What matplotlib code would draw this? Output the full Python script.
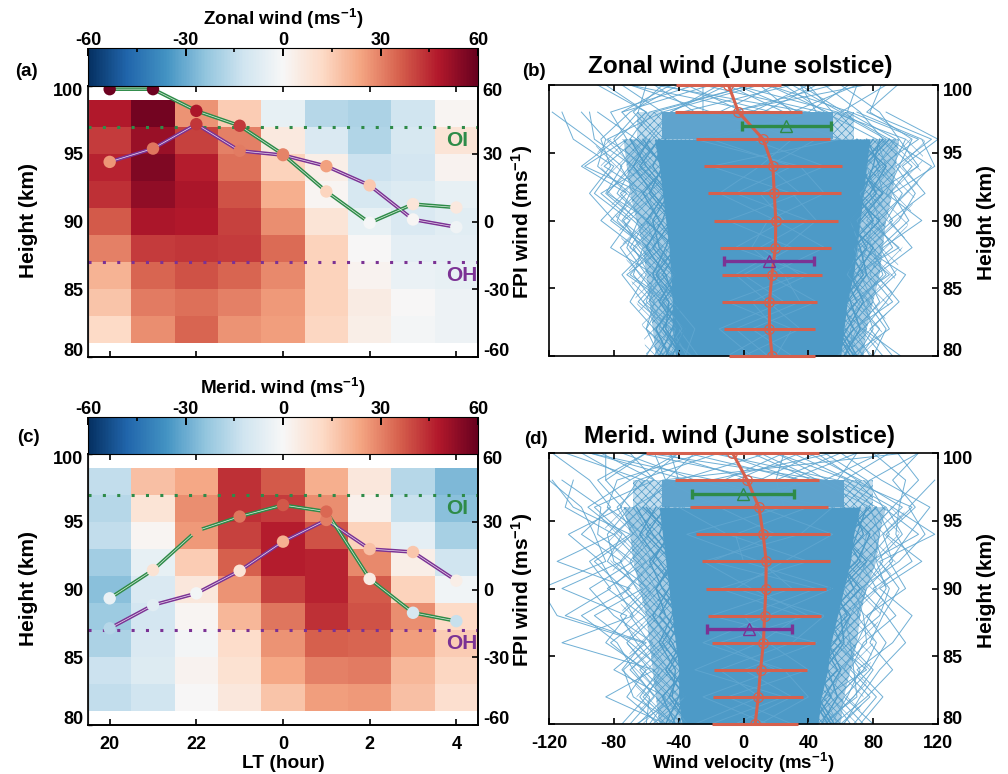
import numpy as np
import matplotlib
matplotlib.use("Agg")
import matplotlib.pyplot as plt
from matplotlib.cm import ScalarMappable
from matplotlib.colors import Normalize
from matplotlib.transforms import ScaledTranslation

plt.rcParams.update({
    "font.family": ["Liberation Sans", "DejaVu Sans"], "font.weight": "bold",
    "mathtext.fontset": "custom", "mathtext.rm": "Liberation Sans:bold",
    "mathtext.default": "rm", "axes.linewidth": 1.2, "axes.unicode_minus": False,
    "hatch.linewidth": 0.5,
})

# ---- data ----
lt_labels = ["20", "22", "0", "2", "4"]
lt_index = [0, 2, 4, 6, 8]
cell_heights = [98, 96, 94, 92, 90, 88, 86, 84, 82]
zonal_grid = [
    [48, 58, 27, 15, -5, -17, -19, -12, 1],
    [42, 52, 41, 30, 6, -9, -18, -10, 8],
    [46, 56, 47, 33, 14, 4, -13, -11, 2],
    [44, 53, 49, 38, 22, 1, -10, -8, -5],
    [37, 49, 48, 41, 28, 8, -5, -9, -7],
    [30, 42, 43, 42, 34, 14, 0, -6, -6],
    [21, 35, 38, 35, 29, 14, 2, -4, -5],
    [17, 31, 33, 30, 26, 14, 5, 0, -3],
    [12, 28, 35, 27, 25, 13, 4, -1, -3],
]
merid_grid = [
    [-15, 18, 23, 44, 37, 22, 7, -17, -27],
    [-17, 8, 28, 44, 42, 28, 3, -14, -25],
    [-15, 1, 26, 41, 47, 38, 14, -6, -20],
    [-21, -5, 15, 36, 47, 46, 29, 4, -12],
    [-25, -9, 7, 27, 41, 46, 37, 14, -2],
    [-22, -11, 1, 20, 32, 44, 38, 28, 12],
    [-19, -9, -1, 11, 27, 36, 35, 25, 15],
    [-13, -8, 2, 9, 23, 30, 31, 20, 13],
    [-15, -12, 0, 7, 17, 25, 26, 18, 10],
]
zonal_oi = [58.6, 58.6, 49, 42.4, 29.7, 13.3, -0.6, 7.7, 6.2]
zonal_oh = [26.4, 32.3, 43.1, 31.3, 29.4, 24.5, 16, 0.9, -2.5]
merid_oi = [-3.9, 8.6, 25.9, 32.3, 37.4, 34.5, 4.7, -10.3, -14]
merid_oh = [-17.2, -6.9, -1.7, 8.3, 21.2, 30.8, 17.9, 16.6, 3.9]

prof_heights = [80, 82, 84, 86, 88, 90, 92, 94, 96, 98, 100]
band_heights = [80, 82, 84, 86, 88, 90, 92, 94, 96]
zonal_mean = [17.6, 16.0, 16.0, 17.5, 19.7, 19.9, 19.0, 18.1, 12.1, -3.1, -9.3]
zonal_half = [26.4, 28, 29.2, 30.9, 34.2, 38.1, 41.2, 42.4, 41.4, 39.1, 32.3]
merid_mean = [7.2, 9.1, 10.5, 12.3, 13, 13.8, 14, 12.1, 9.5, 2.3, -6.8]
merid_half = [26.4, 27.7, 28.6, 31.7, 34.9, 36.9, 39.5, 41.4, 42.4, 44.4, 53.4]
zonal_fpi = {"oi": (26.4, 27.5), "oh": (15.8, 27.8)}
merid_fpi = {"oi": (-0.3, 31.6), "oh": (3.5, 26.3)}

zonal_core_lo = [-42, -44, -44, -45, -46, -48, -50, -52, -55]
zonal_core_hi = [60, 62, 64, 68, 70, 72, 74, 76, 78]
zonal_mid_lo = [-54, -56, -58, -60, -62, -66, -70, -72, -74]
zonal_mid_hi = [74, 76, 80, 84, 86, 88, 92, 94, 96]
zonal_out_lo = [-60, -62, -66, -70, -74, -78, -84, -88, -92]
zonal_out_hi = [82, 86, 90, 94, 98, 102, 106, 110, 112]
merid_core_lo = [-38, -40, -40, -42, -44, -46, -48, -50, -52]
merid_core_hi = [46, 48, 52, 54, 58, 62, 66, 68, 72]
merid_mid_lo = [-52, -54, -56, -58, -60, -64, -68, -70, -74]
merid_mid_hi = [60, 62, 66, 70, 72, 76, 82, 84, 88]
merid_out_lo = [-62, -66, -68, -72, -74, -78, -82, -84, -90]
merid_out_hi = [70, 74, 78, 80, 84, 88, 94, 96, 100]
zonal_top_core = (-50, 55)
zonal_top_mid = (-66, 68)
merid_top_core = (-50, 62)
merid_top_mid = (-68, 80)

n = np.nan
zonal_profiles = [
    [-52, -60, -55, -68, -62, -78, -70, -90, -85, -100, n],
    [-45, -55, -70, -60, -72, -65, -85, -75, -95, -118, n],
    [-60, -50, -62, -75, -58, -80, -95, -82, -88, -70, -40],
    [-40, -48, -58, -52, -66, -88, -72, -100, -78, -60, -90],
    [-48, -42, -60, -55, -82, -70, -92, -80, -105, -112, n],
    [-38, -52, -46, -70, -55, -75, -62, -98, -72, -82, -30],
    [-55, -46, -65, -50, -70, -60, -78, -68, -92, -95, n],
    [-42, -60, -50, -64, -76, -58, -84, -70, -80, -65, -60],
    [-35, -44, -62, -48, -60, -82, -66, -76, -60, -75, -20],
    [-50, -38, -48, -72, -50, -68, -88, -60, -84, -50, -75],
    [-32, -50, -40, -58, -68, -52, -60, -86, -66, -90, n],
    [-46, -36, -52, -44, -64, -74, -54, -70, -58, -45, -10],
    [-28, -40, -56, -42, -54, -60, -76, -56, -70, -58, 5],
    [-36, -30, -44, -54, -46, -58, -50, -66, -52, -68, -50],
    [80, 88, 76, 94, 84, 102, 92, 118, 110, 70, n],
    [92, 78, 96, 82, 104, 90, 112, 98, 120, 88, n],
    [72, 84, 70, 88, 78, 96, 106, 94, 116, 76, 95],
    [97, 74, 88, 100, 74, 92, 80, 108, 96, 84, 60],
    [66, 90, 80, 72, 92, 82, 100, 116, 90, 60, 30],
    [78, 68, 92, 78, 86, 110, 88, 96, 104, 78, 85],
    [86, 72, 66, 90, 70, 88, 98, 84, 108, 66, 15],
    [70, 80, 74, 68, 96, 76, 90, 104, 86, 72, 50],
    [62, 70, 84, 76, 68, 84, 78, 92, 100, 55, 40],
    [74, 62, 72, 86, 80, 70, 86, 82, 94, 64, 70],
    [58, 76, 64, 70, 76, 80, 72, 88, 82, 50, 25],
    [68, 66, 78, 64, 72, 66, 82, 76, 88, 58, -5],
    [20, 30, -10, 35, 10, 40, -5, 30, -20, 40, -55],
    [5, -15, 25, 0, 30, -10, 35, 15, 45, -25, -25],
    [-10, 20, 5, 40, -5, 25, 10, 50, 5, 30, 10],
    [30, 5, 45, 15, 50, 20, -15, 10, 30, -10, 75],
    [0, 35, 15, -5, 25, 45, 30, -20, 60, 10, -70],
    [15, -5, 35, 25, 5, 15, 50, 35, -30, 45, 35],
]
merid_profiles = [
    [-60, -58, -75, -62, -115, -125, -85, -92, -100, -120, n],
    [-70, -55, -68, -78, -100, -70, -115, -80, -110, -105, n],
    [-52, -72, -60, -85, -72, -112, -75, -100, -82, -95, -118],
    [-65, -48, -80, -60, -110, -82, -95, -70, -105, -118, n],
    [-48, -85, -55, -112, -68, -78, -88, -108, -75, -90, -60],
    [-75, -60, -50, -70, -92, -62, -84, -75, -96, -70, -100],
    [-42, -68, -74, -56, -80, -95, -68, -90, -88, -112, n],
    [-58, -46, -62, -82, -60, -74, -92, -68, -78, -60, -40],
    [-50, -64, -52, -66, -76, -58, -80, -84, -70, -85, -85],
    [-38, -54, -70, -50, -62, -84, -60, -74, -92, -55, -70],
    [-66, -40, -58, -72, -54, -66, -76, -62, -84, -78, -25],
    [-44, -62, -46, -58, -70, -54, -64, -80, -62, -48, -55],
    [-34, -50, -64, -46, -56, -72, -56, -66, -76, -65, -15],
    [-56, -36, -48, -62, -48, -60, -70, -58, -68, -40, -45],
    [62, 72, 84, 100, 88, 72, 96, 112, 102, 118, n],
    [72, 86, 70, 92, 104, 84, 110, 88, 106, 92, 108],
    [56, 76, 92, 78, 86, 96, 84, 118, 92, 108, 95],
    [80, 62, 78, 88, 76, 100, 90, 102, 115, 85, 60],
    [68, 82, 66, 74, 94, 80, 104, 94, 96, 100, 80],
    [50, 68, 80, 64, 84, 90, 78, 108, 86, 76, 50],
    [74, 58, 74, 82, 70, 76, 92, 86, 104, 66, 30],
    [60, 78, 62, 70, 78, 88, 82, 98, 88, 58, 70],
    [54, 64, 72, 60, 66, 74, 86, 80, 98, 70, 45],
    [66, 54, 60, 76, 74, 68, 76, 90, 82, 52, 20],
    [48, 70, 68, 66, 62, 82, 72, 76, 92, 62, 90],
    [58, 50, 76, 56, 72, 62, 80, 84, 78, 46, 10],
    [-20, 25, -30, 10, 35, -15, 40, -10, -40, 50, -60],
    [15, -25, 20, -15, 40, 5, -25, 35, 55, -35, -95],
    [-5, 30, 0, 45, -20, 30, 10, -35, 25, 20, 25],
    [30, -10, 40, 15, 0, 45, -20, 20, -15, -50, 100],
    [-30, 10, -15, 30, 50, -5, 25, 55, 10, 35, -35],
    [10, 40, 25, -25, 15, 55, 0, -5, 40, -20, 55],
]
# profiles running along the edge of the solid core, 80-96 km
zonal_edge_lines = [
    [-48, -40, -52, -42, -56, -44, -58, -50, -62],
    [-38, -50, -40, -54, -42, -60, -48, -64, -52],
    [-52, -44, -38, -50, -40, -52, -62, -48, -66],
    [-44, -36, -50, -38, -52, -56, -46, -60, -70],
    [-36, -48, -46, -56, -48, -42, -56, -68, -58],
    [-46, -54, -42, -48, -60, -50, -44, -56, -48],
    [66, 56, 70, 62, 76, 66, 82, 72, 86],
    [56, 68, 60, 74, 64, 80, 70, 84, 76],
    [70, 60, 56, 70, 80, 62, 78, 88, 70],
    [62, 72, 66, 58, 68, 84, 66, 74, 90],
    [54, 64, 74, 66, 60, 72, 86, 68, 80],
    [68, 58, 64, 76, 72, 64, 74, 80, 84],
]
merid_edge_lines = [
    [-44, -36, -48, -38, -52, -42, -56, -46, -60],
    [-34, -46, -38, -50, -40, -54, -44, -60, -48],
    [-48, -40, -34, -46, -38, -50, -58, -44, -62],
    [-40, -32, -46, -36, -48, -54, -42, -56, -66],
    [-32, -44, -42, -52, -44, -40, -52, -64, -54],
    [-42, -50, -36, -44, -56, -46, -40, -52, -46],
    [52, 42, 58, 48, 64, 56, 72, 62, 78],
    [42, 54, 46, 60, 52, 68, 60, 74, 68],
    [56, 46, 42, 56, 66, 52, 70, 78, 62],
    [48, 58, 52, 44, 56, 72, 58, 64, 82],
    [40, 50, 60, 52, 50, 60, 76, 60, 72],
    [54, 44, 50, 62, 60, 54, 64, 70, 76],
]
# wind at 98 km and at 100 km for the sparse profiles that reach the top
zonal_top_98 = [-60, -45, -30, -15, 0, 12, 25, 40, 52, 60, -75, -50, -20, 5, 30, 48, -38, 18, 62, -8, 35, -55]
zonal_top_100 = [-85, -15, -55, 20, -35, 45, -10, 65, 15, 88, -45, 10, -70, 40, 70, -25, 30, -50, 35, 55, -5, 5]
merid_top_98 = [-62, -48, -30, -12, 5, 20, 35, 50, 65, 78, -85, -40, -18, 10, 28, 58, -70, 42, 72, -55, -5, 15]
merid_top_100 = [-110, -30, -75, 25, -50, 60, -15, 85, 20, 108, -60, 15, -95, 45, 70, -20, -40, 5, 40, -88, 35, -65]

# ---- styling ----
W, H = 1008, 774
GREEN, PURPLE, RED = "#2e8b48", "#7b3294", "#d6604d"
BLUE = "#4d9ac7"
cmap = plt.get_cmap("RdBu_r")
norm = Normalize(-60, 60)
FS = 13


def px_axes(l, r, t, b, **kw):
    return fig.add_axes([l / W, 1 - b / H, (r - l) / W, (b - t) / H], **kw)


def ftext(x, y, s, **kw):
    kw.setdefault("ha", "center")
    kw.setdefault("va", "center")
    kw.setdefault("fontsize", FS)
    fig.text(x / W, 1 - y / H, s, **kw)


def nudge_ends(ax_axis):
    labs = ax_axis.get_ticklabels()
    labs[0].set_transform(labs[0].get_transform() + ScaledTranslation(0, 7 / 100, fig.dpi_scale_trans))
    labs[-1].set_transform(labs[-1].get_transform() + ScaledTranslation(0, -4 / 100, fig.dpi_scale_trans))


def double_line(ax, xs, ys, color):
    ax.plot(xs, ys, color=color, lw=2.6, zorder=4, solid_capstyle="round")
    ax.plot(xs, ys, color="white", lw=0.5, alpha=0.85, zorder=4.1)
    ax.scatter(xs, ys, c=ys, cmap=cmap, norm=norm, s=80, lw=0, zorder=5, clip_on=False)


def heat_panel(l, r, t, b, cb_top, grid, oi, oh, title, title_y, xlabels):
    ax = px_axes(l, r, t, b)
    xe = np.arange(10) - 0.5
    ye = [99 - 2 * i for i in range(len(cell_heights) + 1)]
    ax.pcolormesh(xe, ye, np.array(grid, float), cmap=cmap, norm=norm, zorder=2.2)
    ax.set_xlim(-0.5, 8.5)
    ax.set_ylim(80, 100)
    ax.set_yticks([80, 85, 90, 95, 100])
    ax.set_xticks(lt_index)
    ax.tick_params(axis="x", direction="in", top=True, length=4.5, width=1.2, labelsize=FS,
                   labelbottom=xlabels, pad=8)
    ax.set_xticklabels(lt_labels)
    ax.tick_params(axis="y", direction="in", left=True, length=3, width=1, labelsize=FS, pad=3.5)
    nudge_ends(ax.yaxis)
    ax.spines["left"].set_color("#888888")
    ax.spines["left"].set_linewidth(0.9)
    ax.axhline(97, color=GREEN, lw=2.2, dashes=(1.0, 3.7), zorder=3.5)
    ax.axhline(87, color=PURPLE, lw=2.2, dashes=(1.0, 3.7), zorder=3.5)
    ax.text(8.02, 96.0, "OI", color=GREEN, fontsize=15, ha="center", va="center", zorder=6)
    ax.text(8.13, 86.05, "OH", color=PURPLE, fontsize=15, ha="center", va="center", zorder=6)
    tw = ax.twinx()
    tw.set_ylim(-60, 60)
    tw.set_yticks([-60, -30, 0, 30, 60])
    tw.tick_params(axis="y", direction="in", length=4.5, width=1.2, labelsize=FS, pad=3.5)
    nudge_ends(tw.yaxis)
    xs = np.arange(9)
    double_line(tw, xs, oh, PURPLE)
    double_line(tw, xs, oi, GREEN)
    cax = px_axes(l, r, cb_top, t)
    cb = fig.colorbar(ScalarMappable(norm=norm, cmap=cmap), cax=cax, orientation="horizontal")
    cax.xaxis.set_ticks_position("top")
    cb.set_ticks([-60, -30, 0, 30, 60])
    cax.set_xticks([-45, -15, 15, 45], minor=True)
    cax.tick_params(axis="x", which="major", direction="in", length=6, width=1.4, labelsize=FS, pad=-1,
                    color="black")
    cax.tick_params(axis="x", which="minor", direction="in", length=3, width=1.2, top=True, bottom=False)
    cb.outline.set_linewidth(0.8)
    ftext((l + r) / 2, title_y, title, fontsize=13.6)
    return ax


def wind_panel(l, r, t, b, mean, half, fpi, core_lo, core_hi, mid_lo, mid_hi, out_lo, out_hi,
               top_core, top_mid, top98, top100, profiles, edge_lines, title, title_y, xlabels):
    ax = px_axes(l, r, t, b)
    line = "#7ab2d6"
    ax.fill_betweenx(band_heights, out_lo, out_hi, facecolor="none", edgecolor=line, hatch="xx",
                     lw=0, zorder=1)
    ax.fill_betweenx(band_heights, mid_lo, mid_hi, facecolor="#a9cde4", edgecolor=BLUE, hatch="xxxx",
                     lw=0, zorder=1.1)
    ax.fill_betweenx(band_heights, core_lo, core_hi, color=BLUE, lw=0, zorder=1.2)
    ax.fill_betweenx([96, 98], top_mid[0], top_mid[1], facecolor="#c5deee", edgecolor=BLUE, hatch="xxxx",
                     lw=0, zorder=1)
    ax.fill_betweenx([96, 98], top_core[0], top_core[1], color="#5fa3cd", lw=0, zorder=1.2)
    for p in profiles:
        ax.plot(p, prof_heights, color="#5fa6d0", lw=0.7, alpha=0.9, zorder=1.5)
    for p in edge_lines:
        ax.plot(p, band_heights, color=BLUE, lw=1.0, zorder=1.6)
    for a, c in zip(top98, top100):
        ax.plot([a, c], [98, 100], color="#5fa6d0", lw=0.7, alpha=0.9, zorder=1.5)
    ax.plot(mean, prof_heights, color=RED, lw=2.2, marker="o", ms=7, mfc="none", mec=RED, mew=0.9,
            zorder=3, clip_on=True)
    ax.hlines(prof_heights, np.array(mean) - np.array(half), np.array(mean) + np.array(half),
              color=RED, lw=2.2, zorder=3, clip_on=False)
    for key, col, h in (("oi", GREEN, 97), ("oh", PURPLE, 87)):
        c, e = fpi[key]
        ax.errorbar([c], [h], xerr=[e], color=col, lw=2.4, capsize=3.5, capthick=2.4, zorder=4)
        ax.plot([c], [h], marker="^", ms=9, mfc="none", mec=col, mew=1, zorder=4.1)
    ax.set_xlim(-120, 120)
    ax.set_ylim(80, 100)
    ax.set_xticks([-120, -80, -40, 0, 40, 80, 120])
    ax.set_yticks([80, 85, 90, 95, 100])
    ax.tick_params(axis="both", direction="in", length=4.5, width=1.2, labelsize=FS, top=True,
                   right=True, labelleft=False, labelright=True, labelbottom=xlabels)
    ax.tick_params(axis="x", pad=8)
    ax.tick_params(axis="y", pad=3.5)
    nudge_ends(ax.yaxis)
    ftext(740, title_y, title, fontsize=17.5)
    return ax


fig = plt.figure(figsize=(W / 100, H / 100), dpi=100)

heat_panel(88, 478, 86, 357, 48, zonal_grid, zonal_oi, zonal_oh, "Zonal wind (ms$^{-1}$)", 19, False)
heat_panel(88, 478, 454, 725, 417, merid_grid, merid_oi, merid_oh, "Merid. wind (ms$^{-1}$)", 388, True)
wind_panel(549, 938, 85, 356, zonal_mean, zonal_half, zonal_fpi, zonal_core_lo, zonal_core_hi,
           zonal_mid_lo, zonal_mid_hi, zonal_out_lo, zonal_out_hi, zonal_top_core, zonal_top_mid,
           zonal_top_98, zonal_top_100, zonal_profiles, zonal_edge_lines,
           "Zonal wind (June solstice)", 67, False)
wind_panel(549, 938, 453, 724, merid_mean, merid_half, merid_fpi, merid_core_lo, merid_core_hi,
           merid_mid_lo, merid_mid_hi, merid_out_lo, merid_out_hi, merid_top_core, merid_top_mid,
           merid_top_98, merid_top_100, merid_profiles, merid_edge_lines,
           "Merid. wind (June solstice)", 436, True)

ftext(26, 71, "(a)", fontsize=13.5)
ftext(28, 438, "(c)", fontsize=13.5)
ftext(534, 71, "(b)", fontsize=13.5)
ftext(536, 439, "(d)", fontsize=13.5)
ftext(29, 221, "Height (km)", rotation=90, fontsize=15)
ftext(29, 589, "Height (km)", rotation=90, fontsize=15)
ftext(522, 222, "FPI wind (ms$^{-1}$)", rotation=90, fontsize=15)
ftext(522, 590, "FPI wind (ms$^{-1}$)", rotation=90, fontsize=15)
ftext(987, 222, "Height (km)", rotation=90, fontsize=15)
ftext(987, 590, "Height (km)", rotation=90, fontsize=15)
ftext(283, 763, "LT (hour)", fontsize=13.8)
ftext(743, 763, "Wind velocity (ms$^{-1}$)", fontsize=13.5)

fig.savefig("out.png", dpi=100)
